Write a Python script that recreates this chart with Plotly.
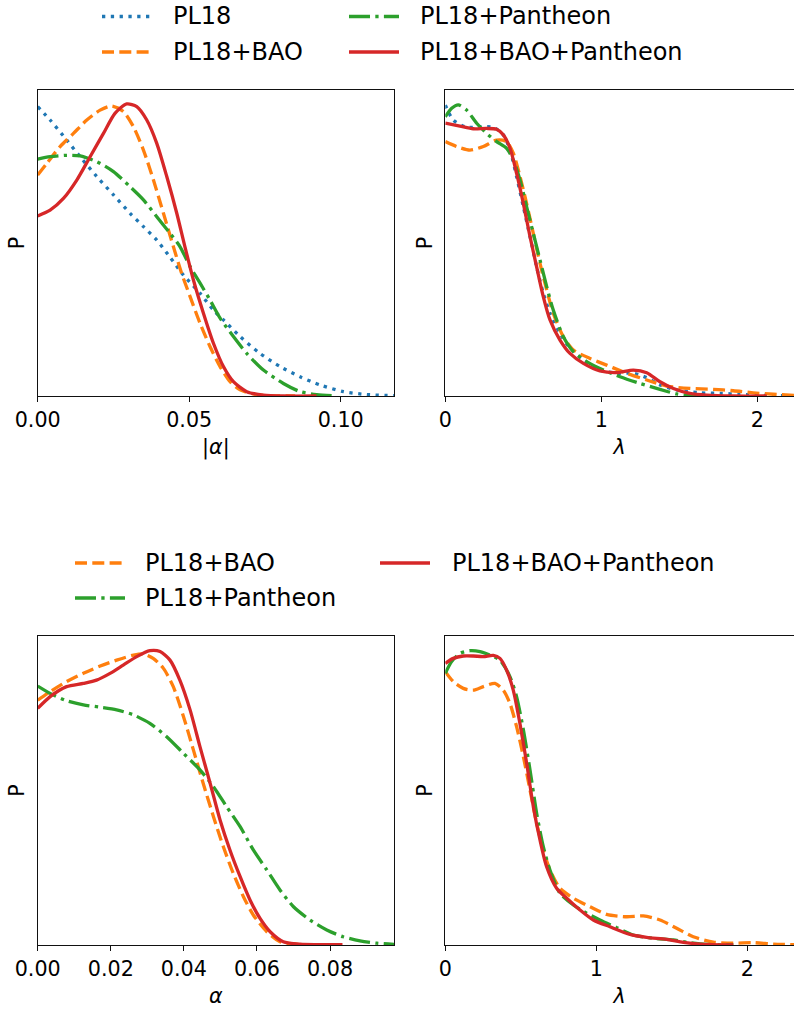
import plotly.graph_objects as go

W, H = 794, 1012

# ---------------- series meta ----------------
NAMES = ["PL18", "PL18+BAO", "PL18+Pantheon", "PL18+BAO+Pantheon"]
COLORS = ["#1f77b4", "#ff7f0e", "#2ca02c", "#d62728"]
DASHES = ["3.3px,5.5px", "12px,5.3px", "21px,5.3px,3.3px,5.3px", "solid"]

# ---------------- top-left: |alpha| ----------------
tl_pl18_x = [0, 0.0041, 0.0096, 0.0140, 0.0195, 0.0250, 0.0305, 0.0349, 0.0393, 0.0437, 0.0481, 0.0536,
             0.0580, 0.0613, 0.0668, 0.0734, 0.0800, 0.0866, 0.0932, 0.1009, 0.1086, 0.1177]
tl_pl18_p = [0.993, 0.947, 0.878, 0.821, 0.753, 0.690, 0.627, 0.581, 0.535, 0.476, 0.415, 0.352,
             0.295, 0.261, 0.204, 0.146, 0.101, 0.066, 0.038, 0.015, 0.005, 0.001]

tl_bao_x = [0, 0.0030, 0.0074, 0.0118, 0.0162, 0.0206, 0.0244, 0.0283, 0.0316, 0.0349, 0.0382, 0.0415,
            0.0448, 0.0475, 0.0503, 0.0536, 0.0569, 0.0602, 0.0635, 0.0668, 0.0712, 0.0756, 0.0850]
tl_bao_p = [0.758, 0.798, 0.856, 0.901, 0.947, 0.981, 0.995, 0.976, 0.924, 0.844, 0.741, 0.627,
            0.512, 0.421, 0.341, 0.249, 0.169, 0.101, 0.049, 0.021, 0.007, 0.001, 0.0]

tl_pan_x = [0, 0.0041, 0.0096, 0.0140, 0.0195, 0.0250, 0.0305, 0.0349, 0.0393, 0.0437, 0.0470, 0.0503,
            0.0536, 0.0569, 0.0602, 0.0646, 0.0690, 0.0745, 0.0811, 0.0866, 0.0921, 0.0987]
tl_pan_p = [0.813, 0.821, 0.826, 0.824, 0.804, 0.770, 0.718, 0.673, 0.615, 0.558, 0.512, 0.444,
            0.387, 0.329, 0.267, 0.204, 0.146, 0.089, 0.043, 0.015, 0.005, 0.0]

tl_all_x = [0, 0.0041, 0.0085, 0.0129, 0.0173, 0.0217, 0.0255, 0.0294, 0.0327, 0.0360, 0.0393, 0.0426,
            0.0459, 0.0486, 0.0514, 0.0547, 0.0580, 0.0613, 0.0646, 0.0690, 0.0745, 0.0810, 0.0920]
tl_all_p = [0.618, 0.638, 0.678, 0.741, 0.821, 0.901, 0.970, 1.002, 0.993, 0.947, 0.867, 0.753,
            0.627, 0.512, 0.398, 0.284, 0.181, 0.101, 0.049, 0.015, 0.003, 0.0, 0.0]

# ---------------- top-right: lambda ----------------
tr_pl18_x = [0, 0.051, 0.137, 0.222, 0.308, 0.372, 0.415, 0.457, 0.500, 0.543, 0.585, 0.628, 0.671,
             0.735, 0.799, 0.885, 0.991, 1.098, 1.205, 1.291, 1.376, 1.483, 1.632, 1.761, 1.889, 2.060, 2.237]
tr_pl18_p = [0.998, 0.947, 0.922, 0.924, 0.922, 0.896, 0.844, 0.753, 0.650, 0.547, 0.444, 0.352, 0.284,
             0.215, 0.164, 0.124, 0.089, 0.078, 0.078, 0.063, 0.038, 0.021, 0.011, 0.009, 0.006, 0.002, 0.001]

tr_bao_x = [0, 0.073, 0.158, 0.244, 0.329, 0.393, 0.436, 0.479, 0.521, 0.564, 0.607, 0.650, 0.692,
            0.756, 0.821, 0.927, 1.034, 1.162, 1.291, 1.419, 1.568, 1.718, 1.846, 1.974, 2.103, 2.237]
tr_bao_p = [0.873, 0.856, 0.844, 0.856, 0.878, 0.873, 0.833, 0.753, 0.661, 0.558, 0.455, 0.364, 0.284,
            0.204, 0.158, 0.129, 0.106, 0.078, 0.055, 0.034, 0.026, 0.023, 0.018, 0.011, 0.006, 0.002]

tr_pan_x = [0, 0.041, 0.083, 0.137, 0.201, 0.265, 0.329, 0.393, 0.436, 0.479, 0.521, 0.564, 0.607,
            0.650, 0.692, 0.756, 0.821, 0.906, 1.013, 1.120, 1.248, 1.376, 1.483, 1.590, 1.740]
tr_pan_p = [0.958, 0.987, 0.999, 0.981, 0.936, 0.901, 0.873, 0.850, 0.810, 0.741, 0.650, 0.558, 0.467,
            0.375, 0.295, 0.204, 0.152, 0.118, 0.089, 0.066, 0.043, 0.023, 0.007, 0.001, 0.0]

tr_all_x = [0, 0.094, 0.179, 0.265, 0.329, 0.372, 0.415, 0.457, 0.500, 0.543, 0.585, 0.628, 0.671,
            0.735, 0.799, 0.885, 0.991, 1.098, 1.205, 1.291, 1.376, 1.462, 1.568, 1.675, 1.846, 2.060]
tr_all_p = [0.936, 0.926, 0.917, 0.918, 0.915, 0.896, 0.850, 0.764, 0.661, 0.547, 0.444, 0.341, 0.261,
            0.192, 0.146, 0.112, 0.086, 0.080, 0.089, 0.080, 0.049, 0.026, 0.009, 0.003, 0.0, 0.0]

# ---------------- bottom-left: alpha ----------------
bl_bao_x = [0, 0.0034, 0.0079, 0.0125, 0.0171, 0.0216, 0.0262, 0.0289, 0.0316, 0.0344, 0.0371, 0.0399,
            0.0426, 0.0453, 0.0481, 0.0508, 0.0535, 0.0563, 0.0590, 0.0627, 0.0663, 0.0718, 0.0809]
bl_bao_p = [0.832, 0.861, 0.895, 0.923, 0.948, 0.968, 0.985, 0.989, 0.974, 0.940, 0.878, 0.776,
            0.663, 0.549, 0.436, 0.334, 0.244, 0.164, 0.102, 0.045, 0.011, 0.002, 0.0]

bl_pan_x = [0, 0.0034, 0.0079, 0.0125, 0.0171, 0.0216, 0.0262, 0.0307, 0.0353, 0.0399, 0.0444, 0.0481,
            0.0517, 0.0554, 0.0590, 0.0627, 0.0663, 0.0700, 0.0745, 0.0791, 0.0836, 0.0882, 0.0928, 0.0976]
bl_pan_p = [0.880, 0.855, 0.830, 0.816, 0.808, 0.799, 0.782, 0.753, 0.708, 0.651, 0.595, 0.538,
            0.470, 0.402, 0.323, 0.255, 0.187, 0.130, 0.085, 0.051, 0.028, 0.014, 0.006, 0.002]

bl_all_x = [0, 0.0034, 0.0079, 0.0125, 0.0161, 0.0198, 0.0234, 0.0271, 0.0307, 0.0335, 0.0362, 0.0389,
            0.0417, 0.0444, 0.0472, 0.0499, 0.0526, 0.0554, 0.0581, 0.0608, 0.0636, 0.0672, 0.0718, 0.0834]
bl_all_p = [0.804, 0.844, 0.878, 0.889, 0.900, 0.923, 0.951, 0.980, 1.000, 0.997, 0.968, 0.900,
            0.799, 0.674, 0.549, 0.425, 0.323, 0.232, 0.153, 0.091, 0.045, 0.011, 0.003, 0.001]

# ---------------- bottom-right: lambda ----------------
br_bao_x = [0, 0.053, 0.119, 0.185, 0.252, 0.329, 0.384, 0.428, 0.472, 0.517, 0.561, 0.605, 0.649,
            0.693, 0.759, 0.848, 0.958, 1.068, 1.201, 1.311, 1.422, 1.532, 1.642, 1.775, 1.907, 2.040,
            2.172, 2.311]
br_bao_p = [0.929, 0.895, 0.872, 0.866, 0.878, 0.889, 0.866, 0.821, 0.742, 0.640, 0.527, 0.413, 0.323,
            0.255, 0.193, 0.159, 0.130, 0.104, 0.096, 0.099, 0.085, 0.057, 0.028, 0.010, 0.006, 0.008,
            0.003, 0.001]

br_pan_x = [0, 0.042, 0.097, 0.163, 0.230, 0.296, 0.362, 0.428, 0.472, 0.517, 0.561, 0.605, 0.649,
            0.693, 0.759, 0.848, 0.936, 1.024, 1.135, 1.245, 1.377, 1.510, 1.620, 1.731, 1.907]
br_pan_p = [0.923, 0.963, 0.991, 1.000, 0.997, 0.985, 0.968, 0.912, 0.844, 0.731, 0.595, 0.447, 0.334,
            0.255, 0.176, 0.136, 0.108, 0.085, 0.059, 0.034, 0.023, 0.017, 0.008, 0.002, 0.0]

br_all_x = [0, 0.053, 0.119, 0.185, 0.252, 0.318, 0.362, 0.406, 0.450, 0.494, 0.539, 0.583, 0.627,
            0.671, 0.737, 0.804, 0.892, 0.980, 1.090, 1.223, 1.333, 1.466, 1.576, 1.687, 1.907]
br_all_p = [0.957, 0.974, 0.982, 0.982, 0.980, 0.984, 0.974, 0.934, 0.866, 0.753, 0.617, 0.470, 0.357,
            0.266, 0.193, 0.159, 0.119, 0.085, 0.062, 0.036, 0.026, 0.019, 0.009, 0.003, 0.0]

# ---------------- tick labels ----------------
tl_ticks = [0.0, 0.05, 0.10]
tr_ticks = [0, 1, 2]
bl_ticks = [0.0, 0.02, 0.04, 0.06, 0.08]
br_ticks = [0, 1, 2]
x_titles = ["|<i>α</i>|", "<i>λ</i>", "<i>α</i>", "<i>λ</i>"]
y_title = "P"

panels = [
    dict(ax="1", series=[(0, tl_pl18_x, tl_pl18_p), (1, tl_bao_x, tl_bao_p), (2, tl_pan_x, tl_pan_p), (3, tl_all_x, tl_all_p)]),
    dict(ax="2", series=[(0, tr_pl18_x, tr_pl18_p), (1, tr_bao_x, tr_bao_p), (2, tr_pan_x, tr_pan_p), (3, tr_all_x, tr_all_p)]),
    dict(ax="3", series=[(1, bl_bao_x, bl_bao_p), (2, bl_pan_x, bl_pan_p), (3, bl_all_x, bl_all_p)]),
    dict(ax="4", series=[(1, br_bao_x, br_bao_p), (2, br_pan_x, br_pan_p), (3, br_all_x, br_all_p)]),
]

FONT = "DejaVu Sans"
LW = 3.3

fig = go.Figure()
for p in panels:
    suf = "" if p["ax"] == "1" else p["ax"]
    for idx, xs, ps in p["series"]:
        fig.add_trace(go.Scatter(
            x=xs, y=ps, mode="lines", name=NAMES[idx], showlegend=False,
            line=dict(color=COLORS[idx], width=LW, dash=DASHES[idx], shape="spline", smoothing=0.7),
            xaxis="x" + suf, yaxis="y" + suf, hoverinfo="skip",
        ))

def px(v):
    return v / W

def py(v):
    return 1 - v / H

LEFT = [px(37.7), px(394.0)]
RIGHT = [px(445.3), 1.0]
TOP = [py(396.0), py(90.0)]
BOT = [py(945.0), py(636.0)]

axis_common = dict(showgrid=False, zeroline=False, showline=True, linecolor="#111", linewidth=1.1,
                   automargin=False, tickfont=dict(family=FONT, size=20.7, color="black"))

def xax(domain, rng, ticks, fmt, title, anchor):
    return dict(domain=domain, range=rng, tickvals=ticks, tickformat=fmt, ticks="outside", ticklen=5,
                tickwidth=1.1, tickcolor="#111", mirror=True, anchor=anchor,
                title=dict(text=title, font=dict(family=FONT, size=20.7, color="black"), standoff=8),
                **axis_common)

def yax(domain, mirror, anchor):
    return dict(domain=domain, range=[0, 1.05], showticklabels=False, ticks="", mirror=mirror, anchor=anchor,
                title=dict(text=y_title, font=dict(family=FONT, size=20.7, color="black"), standoff=6),
                **axis_common)

fig.update_layout(
    template="none",
    width=W, height=H, margin=dict(l=0, r=0, t=0, b=0, autoexpand=False),
    paper_bgcolor="white", plot_bgcolor="white", showlegend=False,
    xaxis=xax(LEFT, [0, 0.1176], tl_ticks, ".2f", x_titles[0], "y"),
    yaxis=yax(TOP, True, "x"),
    xaxis2=xax(RIGHT, [0, 2.235], tr_ticks, "d", x_titles[1], "y2"),
    yaxis2=yax(TOP, False, "x2"),
    xaxis3=xax(LEFT, [0, 0.0975], bl_ticks, ".2f", x_titles[2], "y3"),
    yaxis3=yax(BOT, True, "x3"),
    xaxis4=xax(RIGHT, [0, 2.309], br_ticks, "d", x_titles[3], "y4"),
    yaxis4=yax(BOT, False, "x4"),
)

# ---------------- manual legends (matplotlib style) ----------------
legend_items = [
    # (name index, line x0, line x1, text x, y)
    (0, 102, 152, 171, 16.5), (1, 102, 152, 171, 52),
    (2, 349, 399, 418, 16.5), (3, 349, 399, 418, 52),
    (1, 75, 125, 143, 563), (2, 75, 125, 143, 598),
    (3, 380, 430, 450, 563),
]
for idx, x0, x1, tx, yy in legend_items:
    fig.add_shape(type="line", xref="paper", yref="paper", x0=px(x0), x1=px(x1), y0=py(yy), y1=py(yy),
                  line=dict(color=COLORS[idx], width=LW, dash=DASHES[idx]))
    fig.add_annotation(xref="paper", yref="paper", x=px(tx), y=py(yy), text=NAMES[idx], showarrow=False,
                       xanchor="left", yanchor="middle", font=dict(family=FONT, size=24, color="black"))

fig.write_html("out.html")
